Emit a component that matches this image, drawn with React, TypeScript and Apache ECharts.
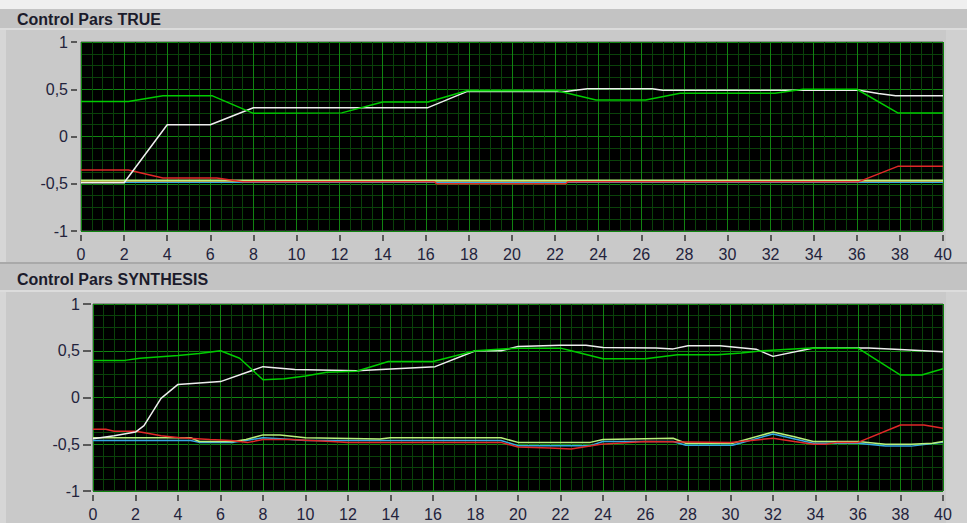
import React, { useEffect, useRef } from 'react';
import * as echarts from 'echarts';

const titleTop = 'Control Pars TRUE';
const titleBottom = 'Control Pars SYNTHESIS';

const xMin = 0;
const xMax = 40;
const xStep = 2;
const yMin = -1;
const yMax = 1;
const yStep = 0.5;

const tWhite = [[0, -0.49], [2, -0.49], [4, 0.125], [6, 0.125], [8, 0.305], [16.1, 0.305], [17.9, 0.475], [22.5, 0.475], [23.5, 0.505], [26.5, 0.505], [27, 0.49], [36.1, 0.49], [37, 0.455], [37.8, 0.43], [40, 0.43]];
const tGreen = [[0, 0.37], [2.2, 0.37], [3.8, 0.43], [6.1, 0.43], [8, 0.245], [12.1, 0.25], [14, 0.365], [16.1, 0.365], [17.9, 0.485], [22.1, 0.485], [23.9, 0.386], [26.2, 0.386], [27.8, 0.457], [32.2, 0.457], [33.5, 0.5], [36, 0.5], [37.9, 0.25], [40, 0.25]];
const tRed = [[0, -0.355], [2.2, -0.355], [3.8, -0.44], [6.3, -0.44], [7.5, -0.478], [16.4, -0.478], [16.5, -0.5], [22.5, -0.5], [22.6, -0.478], [36.1, -0.478], [37.9, -0.316], [40, -0.316]];
const tLightGreen = [[0, -0.462], [40, -0.462]];
const tYellow = [[0, -0.47], [40, -0.47]];
const tCyan = [[0, -0.483], [40, -0.483]];

const sWhite = [[0, -0.44], [1, -0.41], [2, -0.37], [2.4, -0.3], [3.2, -0.01], [4, 0.14], [6, 0.17], [8, 0.33], [9.5, 0.3], [12.4, 0.285], [16.1, 0.33], [18, 0.5], [19.2, 0.5], [20, 0.545], [22, 0.56], [23.2, 0.56], [24, 0.535], [26.5, 0.53], [27.3, 0.52], [28, 0.553], [29.5, 0.553], [31.2, 0.517], [32, 0.44], [33.9, 0.53], [36.5, 0.53], [38.2, 0.51], [40, 0.49]];
const sGreen = [[0, 0.397], [1.5, 0.397], [2.2, 0.42], [4, 0.45], [5, 0.47], [6, 0.5], [6.9, 0.42], [8, 0.19], [9, 0.2], [10, 0.23], [11, 0.27], [12.4, 0.28], [13.9, 0.386], [16, 0.386], [18, 0.5], [20, 0.528], [22, 0.528], [22.5, 0.5], [24, 0.414], [26, 0.414], [27.5, 0.456], [29.4, 0.456], [30.5, 0.475], [31.5, 0.5], [33.8, 0.53], [36, 0.528], [38, 0.24], [39, 0.24], [40, 0.307]];
const sRed = [[0, -0.34], [0.6, -0.34], [1, -0.36], [2, -0.36], [2.5, -0.38], [3.2, -0.41], [4.1, -0.43], [5.5, -0.45], [6.5, -0.46], [7.3, -0.48], [8, -0.45], [9.3, -0.45], [11.2, -0.47], [12, -0.48], [19.2, -0.48], [20, -0.53], [21.5, -0.54], [22.5, -0.55], [23.9, -0.5], [26, -0.47], [30, -0.48], [32, -0.436], [33, -0.47], [33.9, -0.5], [34.5, -0.5], [35, -0.48], [36, -0.48], [38, -0.294], [39.1, -0.294], [40, -0.33]];
const sLightGreen = [[0, -0.43], [4.6, -0.43], [5, -0.47], [6.6, -0.47], [7.2, -0.45], [8, -0.4], [8.8, -0.4], [10, -0.43], [13.5, -0.443], [14, -0.43], [19.2, -0.43], [20, -0.48], [23.4, -0.48], [24, -0.45], [27.3, -0.436], [27.9, -0.49], [30.1, -0.49], [32, -0.37], [33, -0.42], [33.9, -0.47], [36, -0.47], [37.3, -0.5], [38.5, -0.5], [39.5, -0.49], [40, -0.47]];
const sCyan = [[0, -0.46], [4.6, -0.46], [5, -0.48], [6.6, -0.48], [7.2, -0.46], [8, -0.43], [8.8, -0.44], [10, -0.46], [19.2, -0.46], [20, -0.515], [23.4, -0.515], [24, -0.47], [27.3, -0.47], [27.9, -0.51], [30.1, -0.51], [32, -0.39], [33.9, -0.49], [36, -0.49], [37.3, -0.52], [38.5, -0.52], [40, -0.48]];

const C_WHITE = '#eeeeee';
const C_GREEN = '#00cc00';
const C_RED = '#e02828';
const C_LGREEN = '#b8f07c';
const C_YELLOW = '#e8c040';
const C_CYAN = '#34a8e4';

const MAJOR = '#118411';
const MINOR = '#0a420a';
const LABEL = '#23233c';
const TICK = '#333333';
const FONT = '"Liberation Sans", Arial, sans-serif';

function xAxisFor(gridIndex: number, offset: number, tickLen: number, margin: number) {
  return {
    type: 'value', gridIndex, min: xMin, max: xMax, interval: xStep, offset,
    position: 'bottom',
    axisLine: { show: true, onZero: false, lineStyle: { color: '#c9c9c9', width: 1 } },
    axisTick: { show: true, inside: false, length: tickLen, lineStyle: { color: TICK, width: 1.5 } },
    axisLabel: { margin, fontSize: 16, color: LABEL, fontFamily: FONT },
    splitLine: { show: true, lineStyle: { color: MAJOR, width: 1 } },
    minorTick: { show: false, splitNumber: 4 },
    minorSplitLine: { show: true, lineStyle: { color: MINOR, width: 1 } },
  };
}

function yAxisFor(gridIndex: number, offset: number, tickLen: number, margin: number) {
  return {
    type: 'value', gridIndex, min: yMin, max: yMax, interval: yStep, offset,
    position: 'left',
    axisLine: { show: true, onZero: false, lineStyle: { color: '#c9c9c9', width: 1 } },
    axisTick: { show: true, inside: false, length: tickLen, lineStyle: { color: TICK, width: 1.5 } },
    axisLabel: {
      margin, fontSize: 16, color: LABEL, fontFamily: FONT,
      formatter: (v: number) => String(v).replace('.', ','),
    },
    splitLine: { show: true, lineStyle: { color: MAJOR, width: 1 } },
    minorTick: { show: false, splitNumber: 4 },
    minorSplitLine: { show: true, lineStyle: { color: MINOR, width: 1 } },
  };
}

function line(data: number[][], color: string, axis: number, width = 1.5) {
  return {
    type: 'line', data, xAxisIndex: axis, yAxisIndex: axis,
    symbol: 'none', showSymbol: false, silent: true,
    lineStyle: { color, width }, itemStyle: { color },
  };
}

export default function App() {
  const ref = useRef<HTMLDivElement>(null);
  useEffect(() => {
    const chart = echarts.init(ref.current!, null, { renderer: 'svg' });
    chart.setOption({
      animation: false,
      backgroundColor: '#c9c9c9',
      graphic: [
        { type: 'rect', z: -10, shape: { x: 0, y: 0, width: 967, height: 9 }, style: { fill: '#efefef' } },
        { type: 'rect', z: -10, shape: { x: 0, y: 9, width: 967, height: 19 }, style: { fill: '#c3c3c3' } },
        { type: 'rect', z: -10, shape: { x: 0, y: 28, width: 967, height: 2 }, style: { fill: '#dcdcdc' } },
        { type: 'rect', z: -10, shape: { x: 0, y: 30, width: 6, height: 232 }, style: { fill: '#d6d6d6' } },
        { type: 'rect', z: -10, shape: { x: 946, y: 30, width: 21, height: 232 }, style: { fill: '#d0d0d0' } },
        { type: 'rect', z: -10, shape: { x: 0, y: 262, width: 967, height: 2 }, style: { fill: '#a9a9a9' } },
        { type: 'rect', z: -10, shape: { x: 0, y: 264, width: 967, height: 26 }, style: { fill: '#c3c3c3' } },
        { type: 'rect', z: -10, shape: { x: 0, y: 290, width: 967, height: 2 }, style: { fill: '#dcdcdc' } },
        { type: 'rect', z: -10, shape: { x: 0, y: 292, width: 6, height: 231 }, style: { fill: '#d6d6d6' } },
        { type: 'rect', z: -10, shape: { x: 946, y: 292, width: 21, height: 231 }, style: { fill: '#d0d0d0' } },
        {
          type: 'text', x: 17, y: 19, z: 10,
          style: { text: titleTop, fontSize: 16, fontWeight: 'bold', fontFamily: FONT, fill: '#1b1b2b', verticalAlign: 'middle' },
        },
        {
          type: 'text', x: 17, y: 279, z: 10,
          style: { text: titleBottom, fontSize: 16, fontWeight: 'bold', fontFamily: FONT, fill: '#1b1b2b', verticalAlign: 'middle' },
        },
      ],
      grid: [
        { left: 81, top: 42, width: 862, height: 189, show: true, backgroundColor: '#000000', borderColor: '#555555', borderWidth: 1 },
        { left: 93, top: 304, width: 850, height: 187, show: true, backgroundColor: '#000000', borderColor: '#555555', borderWidth: 1 },
      ],
      xAxis: [xAxisFor(0, 4, 6, 11), xAxisFor(1, 4, 6, 11)],
      yAxis: [yAxisFor(0, 4, 6, 9), yAxisFor(1, 2, 8, 11)],
      series: [
        line(tCyan, C_CYAN, 0),
        line(tYellow, C_YELLOW, 0),
        line(tLightGreen, C_LGREEN, 0),
        line(tRed, C_RED, 0),
        line(tWhite, C_WHITE, 0),
        line(tGreen, C_GREEN, 0),
        line(sCyan, C_CYAN, 1),
        line(sLightGreen, C_LGREEN, 1),
        line(sRed, C_RED, 1),
        line(sWhite, C_WHITE, 1),
        line(sGreen, C_GREEN, 1),
      ],
    });
    return () => chart.dispose();
  }, []);
  return <div ref={ref} style={{ position: 'fixed', left: 0, top: 0, width: 967, height: 523 }} />;
}
